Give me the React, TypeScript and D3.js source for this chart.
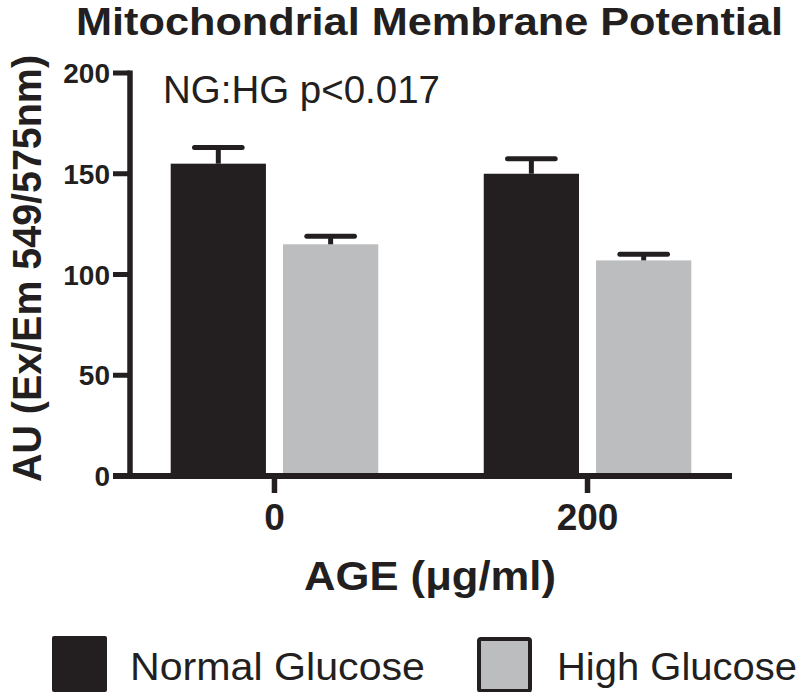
import React from "react";
import * as d3 from "d3";

const categories = ["0", "200"];
const seriesNames = ["Normal Glucose", "High Glucose"];
const normalGlucose = [155, 150];
const highGlucose = [115, 107];
const normalErr = [8, 7.5];
const highErr = [4, 3];
const yTicks = [0, 50, 100, 150, 200];

const W = 800;
const H = 692;
const FONT = "'Liberation Sans', Arial, Helvetica, sans-serif";
const DARK = "#231f20";
const GRAY = "#bcbdbf";

export default function App() {
  const x0 = 130;
  const x1 = 732;
  const yBase = 476;
  const yTop = 73;

  const y = d3.scaleLinear().domain([0, 200]).range([yBase, yTop]);
  const xGroup = d3
    .scaleBand<string>()
    .domain(categories)
    .range([x0, x1])
    .paddingInner(0.337)
    .paddingOuter(0.13);
  const xInner = d3
    .scaleBand<string>()
    .domain(seriesNames)
    .range([0, xGroup.bandwidth()])
    .paddingInner(0.152);

  const series = [
    { name: seriesNames[0], values: normalGlucose, errs: normalErr, color: DARK },
    { name: seriesNames[1], values: highGlucose, errs: highErr, color: GRAY },
  ];

  return (
    <svg
      width={W}
      height={H}
      viewBox={`0 0 ${W} ${H}`}
      style={{ position: "absolute", left: 0, top: 0, background: "#fff" }}
    >
      <rect x={0} y={0} width={W} height={H} fill="#fff" />
      {/* Title */}
      <text
        x={76}
        y={35}
        fontFamily={FONT}
        fontWeight="bold"
        fontSize={38.5}
        fill={DARK}
        textLength={707}
        lengthAdjust="spacingAndGlyphs"
      >
        Mitochondrial Membrane Potential
      </text>

      {/* Annotation */}
      <text
        x={163}
        y={103}
        fontFamily={FONT}
        fontSize={38}
        fill={DARK}
        textLength={277}
        lengthAdjust="spacingAndGlyphs"
      >
        NG:HG p&lt;0.017
      </text>

      {/* Bars */}
      {series.map((s) =>
        categories.map((c, i) => {
          const bx = (xGroup(c) as number) + (xInner(s.name) as number);
          const bw = xInner.bandwidth();
          const v = s.values[i];
          return (
            <g key={s.name + c}>
              <rect x={bx} y={y(v)} width={bw} height={yBase - y(v)} fill={s.color} />
              <line
                x1={bx + bw / 2}
                x2={bx + bw / 2}
                y1={y(v)}
                y2={y(v + s.errs[i])}
                stroke={DARK}
                strokeWidth={5}
              />
              <line
                x1={bx + bw / 4}
                x2={bx + (3 * bw) / 4}
                y1={y(v + s.errs[i])}
                y2={y(v + s.errs[i])}
                stroke={DARK}
                strokeWidth={5}
                strokeLinecap="round"
              />
            </g>
          );
        })
      )}

      {/* Y axis */}
      <line x1={x0} x2={x0} y1={yTop - 2.5} y2={yBase + 3} stroke={DARK} strokeWidth={5.5} />
      {yTicks.map((t) => (
        <g key={t}>
          <line x1={113} x2={x0} y1={y(t)} y2={y(t)} stroke={DARK} strokeWidth={5} />
          <text
            x={110}
            y={y(t)}
            dy="0.36em"
            textAnchor="end"
            fontFamily={FONT}
            fontWeight="bold"
            fontSize={28}
            fill={DARK}
          >
            {t}
          </text>
        </g>
      ))}

      {/* X axis */}
      <line x1={113} x2={x1} y1={yBase} y2={yBase} stroke={DARK} strokeWidth={6} />
      {categories.map((c) => {
        const cx = (xGroup(c) as number) + xGroup.bandwidth() / 2;
        return (
          <g key={c}>
            <line x1={cx} x2={cx} y1={yBase} y2={493} stroke={DARK} strokeWidth={5.5} />
            <text
              x={cx}
              y={530}
              textAnchor="middle"
              fontFamily={FONT}
              fontWeight="bold"
              fontSize={37}
              fill={DARK}
            >
              {c}
            </text>
          </g>
        );
      })}

      {/* Axis titles */}
      <text
        x={304}
        y={590}
        fontFamily={FONT}
        fontWeight="bold"
        fontSize={40}
        fill={DARK}
        textLength={252}
        lengthAdjust="spacingAndGlyphs"
      >
        AGE (μg/ml)
      </text>
      <text
        transform="translate(41,482) rotate(-90)"
        x={0}
        y={0}
        fontFamily={FONT}
        fontWeight="bold"
        fontSize={40}
        fill={DARK}
        textLength={427}
        lengthAdjust="spacingAndGlyphs"
      >
        AU (Ex/Em 549/575nm)
      </text>

      {/* Legend */}
      <rect x={52} y={636} width={55} height={56} rx={2} fill={DARK} />
      <text
        x={130}
        y={680}
        fontFamily={FONT}
        fontSize={38}
        fill={DARK}
        textLength={295}
        lengthAdjust="spacingAndGlyphs"
      >
        {seriesNames[0]}
      </text>
      <rect x={479} y={639} width={51} height={52} rx={2} fill={GRAY} stroke={DARK} strokeWidth={4} />
      <text
        x={557}
        y={680}
        fontFamily={FONT}
        fontSize={38}
        fill={DARK}
        textLength={240}
        lengthAdjust="spacingAndGlyphs"
      >
        {seriesNames[1]}
      </text>
    </svg>
  );
}
